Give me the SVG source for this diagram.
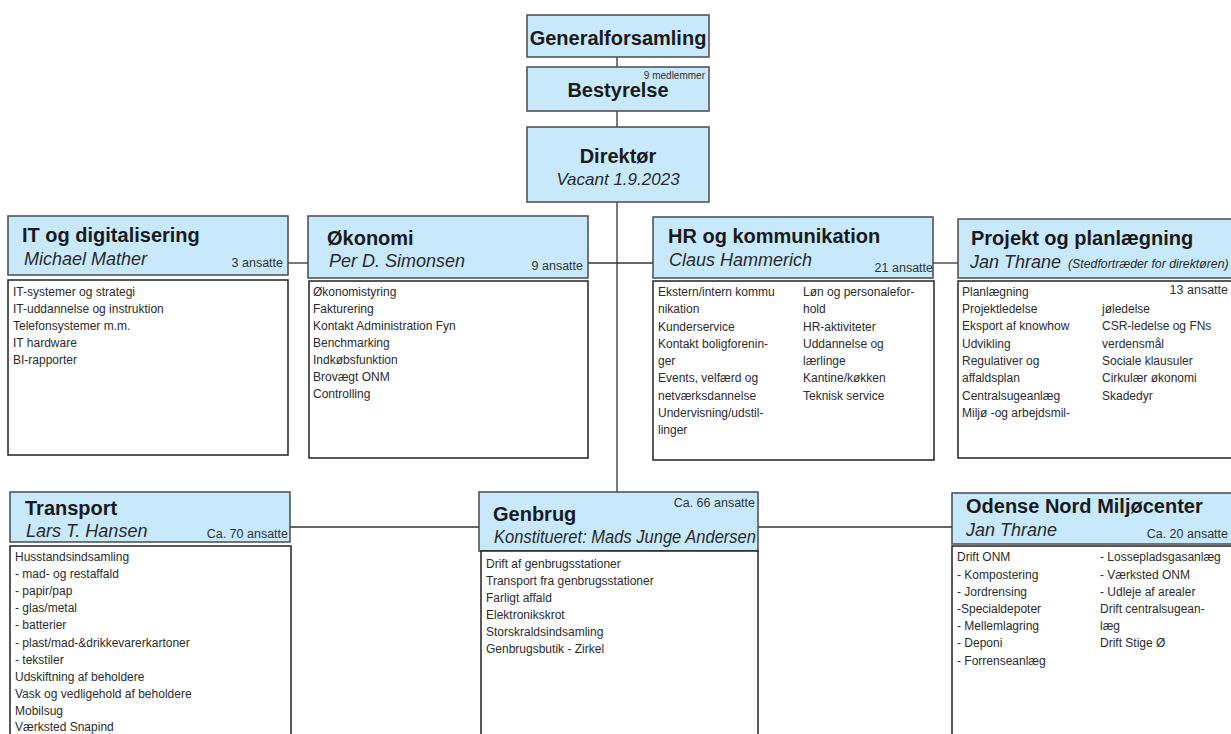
<svg xmlns="http://www.w3.org/2000/svg" width="1231" height="734" viewBox="0 0 1231 734">
<style>
.hd{fill:#c7e9fb;stroke:#4a4a4a;stroke-width:1.5}
.bd{fill:#ffffff;stroke:#222;stroke-width:1.5}
.tt{font-family:"Liberation Sans",Arial,sans-serif;font-weight:bold;font-size:20px;fill:#1a1a1a}
.nm{font-family:"Liberation Sans",Arial,sans-serif;font-style:italic;font-size:18px;fill:#2a2a2a}
.sm{font-family:"Liberation Sans",Arial,sans-serif;font-size:12.5px;fill:#333}
.tx{font-family:"Liberation Sans",Arial,sans-serif;font-size:12px;fill:#2b2b2b}
.cn{stroke:#333;stroke-width:1.3;fill:none}
</style>
<rect width="1231" height="734" fill="#ffffff"/>
<g id="connectors">
<line class="cn" x1="617" y1="57" x2="617" y2="67"/>
<line class="cn" x1="617" y1="111" x2="617" y2="127"/>
<line class="cn" x1="617" y1="202" x2="617" y2="493"/>
<line class="cn" x1="288" y1="263" x2="308" y2="263"/>
<line class="cn" x1="588" y1="263" x2="653" y2="263"/>
<line class="cn" x1="933" y1="263" x2="958" y2="263"/>
<line class="cn" x1="290" y1="527" x2="479" y2="527"/>
<line class="cn" x1="758" y1="527" x2="952" y2="527"/>
</g>
<g id="generalforsamling">
<rect class="hd" x="527" y="15" width="182" height="42"/>
<text class="tt" x="618" y="45" text-anchor="middle">Generalforsamling</text>
</g>
<g id="bestyrelse">
<rect class="hd" x="527" y="67" width="182" height="44"/>
<text class="sm" x="705" y="79" text-anchor="end" style="font-size:10px">9 medlemmer</text>
<text class="tt" x="618" y="97" text-anchor="middle">Bestyrelse</text>
</g>
<g id="direktor">
<rect class="hd" x="527" y="127" width="182" height="75"/>
<text class="tt" x="618" y="163" text-anchor="middle">Direktør</text>
<text class="nm" x="618" y="185" text-anchor="middle" style="font-size:17px">Vacant 1.9.2023</text>
</g>
<g id="it">
<rect class="hd" x="8" y="216" width="280" height="59"/>
<text class="tt" x="22" y="242">IT og digitalisering</text>
<text class="nm" x="24" y="265">Michael Mather</text>
<text class="sm" x="283" y="267" text-anchor="end">3 ansatte</text>
<rect class="bd" x="8" y="280" width="280" height="175"/>
<text class="tx" x="13" y="296">IT-systemer og strategi</text>
<text class="tx" x="13" y="313">IT-uddannelse og instruktion</text>
<text class="tx" x="13" y="330">Telefonsystemer m.m.</text>
<text class="tx" x="13" y="347">IT hardware</text>
<text class="tx" x="13" y="364">BI-rapporter</text>
</g>
<g id="okonomi">
<rect class="hd" x="308" y="216" width="280" height="62"/>
<text class="tt" x="327" y="245">Økonomi</text>
<text class="nm" x="329" y="267">Per D. Simonsen</text>
<text class="sm" x="583" y="270" text-anchor="end">9 ansatte</text>
<rect class="bd" x="309" y="281" width="279" height="177"/>
<text class="tx" x="313" y="296">Økonomistyring</text>
<text class="tx" x="313" y="313">Fakturering</text>
<text class="tx" x="313" y="330">Kontakt Administration Fyn</text>
<text class="tx" x="313" y="347">Benchmarking</text>
<text class="tx" x="313" y="364">Indkøbsfunktion</text>
<text class="tx" x="313" y="381">Brovægt ONM</text>
<text class="tx" x="313" y="398">Controlling</text>
</g>
<g id="hr">
<rect class="hd" x="653" y="217" width="280" height="61"/>
<text class="tt" x="668" y="243">HR og kommunikation</text>
<text class="nm" x="669" y="266">Claus Hammerich</text>
<text class="sm" x="933" y="272" text-anchor="end">21 ansatte</text>
<rect class="bd" x="653" y="281" width="281" height="179"/>
<text class="tx" x="658" y="296">Ekstern/intern kommu</text>
<text class="tx" x="658" y="313">nikation</text>
<text class="tx" x="658" y="331">Kunderservice</text>
<text class="tx" x="658" y="348">Kontakt boligforenin-</text>
<text class="tx" x="658" y="365">ger</text>
<text class="tx" x="658" y="382">Events, velfærd og</text>
<text class="tx" x="658" y="400">netværksdannelse</text>
<text class="tx" x="658" y="417">Undervisning/udstil-</text>
<text class="tx" x="658" y="434">linger</text>
<text class="tx" x="803" y="296">Løn og personalefor-</text>
<text class="tx" x="803" y="313">hold</text>
<text class="tx" x="803" y="331">HR-aktiviteter</text>
<text class="tx" x="803" y="348">Uddannelse og</text>
<text class="tx" x="803" y="365">lærlinge</text>
<text class="tx" x="803" y="382">Kantine/køkken</text>
<text class="tx" x="803" y="400">Teknisk service</text>
</g>
<g id="projekt">
<rect class="hd" x="958" y="219" width="290" height="59"/>
<text class="tt" x="971" y="245">Projekt og planlægning</text>
<text class="nm" x="970" y="268">Jan Thrane</text>
<text class="nm" x="1068" y="268" style="font-size:12.3px">(Stedfortræder for direktøren)</text>
<rect class="bd" x="958" y="281" width="290" height="177"/>
<text class="sm" x="1228" y="294" text-anchor="end">13 ansatte</text>
<text class="tx" x="962" y="296">Planlægning</text>
<text class="tx" x="962" y="313">Projektledelse</text>
<text class="tx" x="962" y="330">Eksport af knowhow</text>
<text class="tx" x="962" y="348">Udvikling</text>
<text class="tx" x="962" y="365">Regulativer og</text>
<text class="tx" x="962" y="382">affaldsplan</text>
<text class="tx" x="962" y="400">Centralsugeanlæg</text>
<text class="tx" x="962" y="417">Miljø -og arbejdsmil-</text>
<text class="tx" x="1102" y="313">jøledelse</text>
<text class="tx" x="1102" y="330">CSR-ledelse og FNs</text>
<text class="tx" x="1102" y="348">verdensmål</text>
<text class="tx" x="1102" y="365">Sociale klausuler</text>
<text class="tx" x="1102" y="382">Cirkulær økonomi</text>
<text class="tx" x="1102" y="400">Skadedyr</text>
</g>
<g id="transport">
<rect class="hd" x="10" y="492" width="280" height="50"/>
<text class="tt" x="25" y="515">Transport</text>
<text class="nm" x="26" y="537">Lars T. Hansen</text>
<text class="sm" x="288" y="538" text-anchor="end">Ca. 70 ansatte</text>
<rect class="bd" x="10" y="546" width="281" height="200"/>
<text class="tx" x="15" y="561">Husstandsindsamling</text>
<text class="tx" x="15" y="578">- mad- og restaffald</text>
<text class="tx" x="15" y="595">- papir/pap</text>
<text class="tx" x="15" y="612">- glas/metal</text>
<text class="tx" x="15" y="629">- batterier</text>
<text class="tx" x="15" y="647">- plast/mad-&amp;drikkevarerkartoner</text>
<text class="tx" x="15" y="664">- tekstiler</text>
<text class="tx" x="15" y="681">Udskiftning af beholdere</text>
<text class="tx" x="15" y="698">Vask og vedligehold af beholdere</text>
<text class="tx" x="15" y="715">Mobilsug</text>
<text class="tx" x="15" y="731">Værksted Snapind</text>
</g>
<g id="genbrug">
<rect class="hd" x="479" y="492" width="279" height="59"/>
<text class="sm" x="755" y="507" text-anchor="end">Ca. 66 ansatte</text>
<text class="tt" x="493" y="521">Genbrug</text>
<text class="nm" x="494" y="543" textLength="262" lengthAdjust="spacingAndGlyphs">Konstitueret: Mads Junge Andersen</text>
<rect class="bd" x="481" y="551" width="277" height="195"/>
<text class="tx" x="486" y="568">Drift af genbrugsstationer</text>
<text class="tx" x="486" y="585">Transport fra genbrugsstationer</text>
<text class="tx" x="486" y="602">Farligt affald</text>
<text class="tx" x="486" y="619">Elektronikskrot</text>
<text class="tx" x="486" y="636">Storskraldsindsamling</text>
<text class="tx" x="486" y="653">Genbrugsbutik - Zirkel</text>
</g>
<g id="odense">
<rect class="hd" x="952" y="493" width="290" height="51"/>
<text class="tt" x="966" y="513">Odense Nord Miljøcenter</text>
<text class="nm" x="966" y="536">Jan Thrane</text>
<text class="sm" x="1228" y="538" text-anchor="end">Ca. 20 ansatte</text>
<rect class="bd" x="952" y="546" width="290" height="200"/>
<text class="tx" x="957" y="561">Drift ONM</text>
<text class="tx" x="957" y="579">- Kompostering</text>
<text class="tx" x="957" y="596">- Jordrensing</text>
<text class="tx" x="957" y="613">-Specialdepoter</text>
<text class="tx" x="957" y="630">- Mellemlagring</text>
<text class="tx" x="957" y="647">- Deponi</text>
<text class="tx" x="957" y="665">- Forrenseanlæg</text>
<text class="tx" x="1100" y="561">- Lossepladsgasanlæg</text>
<text class="tx" x="1100" y="579">- Værksted ONM</text>
<text class="tx" x="1100" y="596">- Udleje af arealer</text>
<text class="tx" x="1100" y="613">Drift centralsugean-</text>
<text class="tx" x="1100" y="630">læg</text>
<text class="tx" x="1100" y="647">Drift Stige Ø</text>
</g>
</svg>
